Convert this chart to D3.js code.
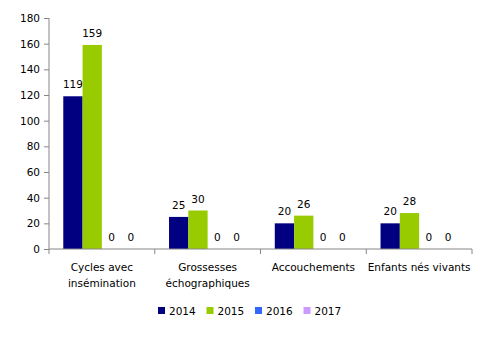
<!DOCTYPE html>
<html><head><meta charset="utf-8">
<script src="https://cdn.jsdelivr.net/npm/d3@7"></script>
<style>body{margin:0;background:#fff;} svg{display:block;} text{font-family:"DejaVu Sans",Verdana,sans-serif;fill:#000;}</style>
</head><body>
<svg id="c" width="501" height="338"></svg>
<script>
const categories = [["Cycles avec","insémination"],["Grossesses","échographiques"],["Accouchements"],["Enfants nés vivants"]];
const years = ["2014","2015","2016","2017"];
const s2014 = [119,25,20,20];
const s2015 = [159,30,26,28];
const s2016 = [0,0,0,0];
const s2017 = [0,0,0,0];
const yTicks = [0,20,40,60,80,100,120,140,160,180];
const colors = ["#000080","#99CC00","#3366FF","#CC99FF"];
const series = [s2014,s2015,s2016,s2017];

const svg = d3.select("#c");
const L=49, R=472, T=18, B=249;
const x = d3.scaleBand().domain(d3.range(categories.length)).range([L,R]).paddingInner(0).paddingOuter(0);
const x1 = d3.scaleBand().domain(d3.range(years.length)).range([0,x.bandwidth()]).paddingOuter(0.74).paddingInner(0);
const y = d3.scaleLinear().domain([0,180]).range([B,T]);

// bars
series.forEach((s,si)=>{
  const g = svg.append("g");
  g.selectAll("rect").data(s).join("rect")
    .attr("x",(d,i)=>x(i)+x1(si)).attr("width",x1.bandwidth())
    .attr("y",d=>y(d)).attr("height",d=>B-y(d)).attr("fill",colors[si]);
  g.selectAll("text").data(s).join("text")
    .attr("x",(d,i)=>x(i)+x1(si)+x1.bandwidth()/2).attr("y",d=>y(d)-8)
    .attr("text-anchor","middle").attr("font-size","10.5px").text(d=>d);
});

// y axis
const ya = svg.append("g").attr("transform",`translate(${L},0)`)
  .call(d3.axisLeft(y).tickValues(yTicks).tickSize(5).tickPadding(4));
ya.select(".domain").attr("stroke","#868686").attr("d",`M0,${T}V${B}`);
ya.selectAll(".tick line").attr("stroke","#868686");
ya.selectAll(".tick text").attr("font-size","10.5px").attr("font-family","DejaVu Sans, Verdana, sans-serif").attr("fill","#000");

// x axis
const xa = svg.append("g").attr("transform",`translate(0,${B})`);
xa.append("line").attr("x1",L).attr("x2",R).attr("y1",0).attr("y2",0).attr("stroke","#868686");
const edges = d3.range(categories.length+1).map(i=> i<categories.length ? x(i) : R);
xa.selectAll("line.t").data(edges).join("line").attr("class","t")
  .attr("x1",d=>d).attr("x2",d=>d).attr("y1",0).attr("y2",5).attr("stroke","#868686");
categories.forEach((lines,i)=>{
  const t = xa.append("text").attr("text-anchor","middle").attr("font-size","10.5px")
    .attr("x",x(i)+x.bandwidth()/2).attr("y",22);
  lines.forEach((ln,j)=>t.append("tspan").attr("x",x(i)+x.bandwidth()/2).attr("dy",j?16:0).text(ln));
});

// legend
const lg = svg.append("g").attr("transform","translate(158,311)");
years.forEach((yr,i)=>{
  const g = lg.append("g").attr("transform",`translate(${i*48.5},0)`);
  g.append("rect").attr("x",0).attr("y",-4).attr("width",7).attr("height",7).attr("fill",colors[i]);
  g.append("text").attr("x",11).attr("y",4).attr("font-size","10.5px").text(yr);
});
</script>
</body></html>
